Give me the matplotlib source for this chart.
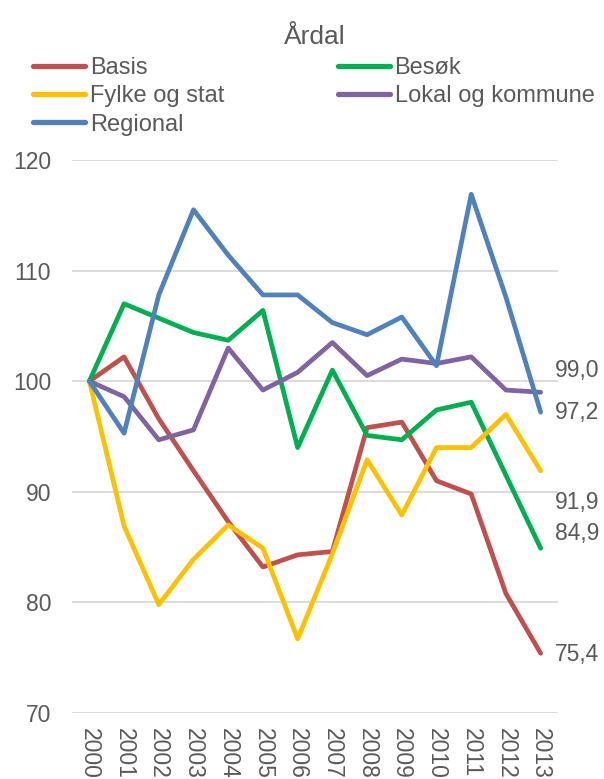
import matplotlib
matplotlib.use("Agg")
import matplotlib.pyplot as plt

plt.rcParams['font.family'] = ['Liberation Sans', 'DejaVu Sans']

years = ["2000", "2001", "2002", "2003", "2004", "2005", "2006",
         "2007", "2008", "2009", "2010", "2011", "2012", "2013"]

basis = [100, 102.2, 96.6, 91.9, 87.3, 83.2, 84.3, 84.6, 95.8, 96.3, 91.0, 89.8, 80.8, 75.4]
besok = [100, 107.0, 105.7, 104.4, 103.7, 106.4, 94.0, 101.0, 95.1, 94.7, 97.4, 98.1, 91.5, 84.9]
fylke = [100, 86.9, 79.8, 83.9, 87.0, 84.9, 76.7, 84.4, 92.9, 87.9, 94.0, 94.0, 97.0, 91.9]
lokal = [100, 98.6, 94.7, 95.6, 103.0, 99.2, 100.8, 103.5, 100.5, 102.0, 101.6, 102.2, 99.2, 99.0]
regional = [100, 95.3, 107.8, 115.5, 111.4, 107.8, 107.8, 105.3, 104.2, 105.8, 101.4, 116.9, 107.6, 97.2]

series_names = ["Basis", "Besøk", "Fylke og stat", "Lokal og kommune", "Regional"]
series_values = [basis, besok, fylke, lokal, regional]
series_colors = ["#C0504D", "#00B050", "#FFC000", "#8064A2", "#4F81BD"]

end_labels = ["99,0", "97,2", "91,9", "84,9", "75,4"]
end_label_y = [101.0, 97.13, 88.99, 86.27, 75.3]

yticks = [70, 80, 90, 100, 110, 120]

TXT = "#595959"
W, H = 604, 779
fig = plt.figure(figsize=(W / 100, H / 100), dpi=100)
ax = fig.add_axes([72 / W, 1 - 713 / H, (558 - 72) / W, (713 - 160) / H])

x = list(range(len(years)))
lines = {}
for name, vals, col in zip(series_names, series_values, series_colors):
    ln, = ax.plot(x, vals, color=col, lw=3.4, solid_joinstyle='round',
                  solid_capstyle='round', label=name, zorder=3)
    lines[name] = ln

ax.set_xlim(-0.5, len(years) - 0.5)
ax.set_ylim(70, 120)
ax.set_yticks(yticks)
ax.set_yticklabels([str(t) for t in yticks])
ax.set_xticks(x)
ax.set_xticklabels(years, rotation=270, va='top', ha='center')
ax.grid(axis='y', color='#D9D9D9', lw=1.3, zorder=0)
ax.set_axisbelow(True)
for s in ax.spines.values():
    s.set_visible(False)
ax.tick_params(axis='y', length=0, pad=15, labelsize=16.5, labelcolor=TXT)
ax.tick_params(axis='x', length=0, pad=11, labelsize=16.5, labelcolor=TXT)

for lab, ly in zip(end_labels, end_label_y):
    ax.annotate(lab, xy=(len(years) - 1, ly), xytext=(14, 0),
                textcoords='offset pixels', ha='left', va='center',
                fontsize=16.5, color=TXT, annotation_clip=False)

fig.text(315 / W, 1 - 37 / H, "Årdal", ha='center', va='center',
         fontsize=19, color=TXT)

order = ["Basis", "Fylke og stat", "Regional", "Besøk", "Lokal og kommune"]
leg = fig.legend([lines[n] for n in order], order, ncols=2,
                 loc='upper left', bbox_to_anchor=(33 / W, 1 - 57 / H),
                 frameon=False, fontsize=17, handlelength=2.2,
                 handletextpad=0.2, columnspacing=4.82, labelspacing=0.27,
                 borderpad=0, borderaxespad=0)
for t in leg.get_texts():
    t.set_color(TXT)
for h in leg.legend_handles:
    h.set_linewidth(3.8)

fig.savefig("out.png", dpi=100)
